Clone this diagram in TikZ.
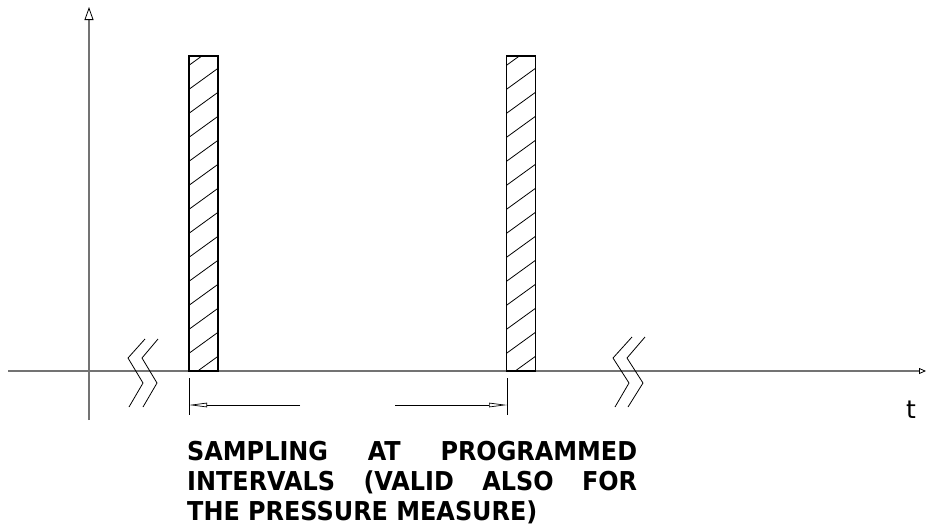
\documentclass[tikz,border=0pt]{standalone}
\usepackage{fontspec}
\setmainfont{DejaVu Sans}
\newfontfamily\capfont[FakeStretch=0.92]{DejaVu Sans}
\usetikzlibrary{arrows.meta}
\tikzset{
  axisline/.style={draw=black!55, line width=1.8pt},
  axistip/.style={-{Triangle[open, length=13pt, width=9pt, line width=0.8pt, color=black]}},
  axistipsmall/.style={-{Triangle[open, length=7pt, width=6pt, line width=0.8pt, color=black]}},
  barbox/.style={draw=black, line width=1.2pt, fill=none, minimum width=29pt, minimum height=315pt, inner sep=0pt, outer sep=0pt},
  hatch/.style={draw=black, line width=0.8pt},
  breakline/.style={draw=black, line width=0.8pt},
  dimline/.style={draw=black, line width=0.8pt},
  dimtip/.style={-{Triangle[open, length=18pt, width=4.5pt, line width=0.7pt, color=black]}},
  caption/.style={font=\capfont\bfseries\fontsize{26}{30}\selectfont, text width=450pt, align=justify, inner sep=0pt, anchor=base west},
}
\begin{document}
\begin{tikzpicture}[x=1pt,y=-1pt]
\useasboundingbox (0,0) rectangle (927,528);
% axes
\coordinate (xstart) at (8,371);
\coordinate (xend) at (926,371);
\coordinate (ystart) at (89,420);
\coordinate (yend) at (89,7);
\draw[axisline, axistipsmall] (xstart) -- (xend);
\draw[axisline, axistip] (ystart) -- (yend);
% bars
\node[barbox] (bar1) at (203.5,213.5) {};
\node[barbox] (bar2) at (521,213.5) {};
\foreach \b/\x in {bar1/189, bar2/506.5}{
  \begin{scope}
    \clip (\b.south west) rectangle (\b.north east);
    \foreach \k in {-1,...,14}{
      \pgfmathsetmacro{\yl}{353.3-24*\k}
      \draw[hatch] (\x-10,\yl+7.24) -- (\x+40,\yl-28.97);
    }
  \end{scope}
}
% breaks
\draw[breakline] (145,339) -- (128,358) -- (143,383) -- (129,407);
\draw[breakline] (158,339) -- (142,358) -- (157,383) -- (143,407);
\draw[breakline] (632,337) -- (613,358) -- (629,383) -- (615,407);
\draw[breakline] (645,337) -- (627,358) -- (643,383) -- (628,407);
% dimension
\coordinate (t1a) at (189,378);
\coordinate (t1b) at (189,415);
\coordinate (t2a) at (507,378);
\coordinate (t2b) at (507,415);
\draw[dimline] (t1a) -- (t1b);
\draw[dimline] (t2a) -- (t2b);
\coordinate (d1) at (189,405);
\coordinate (d1t) at (300,405);
\coordinate (d2) at (507,405);
\coordinate (d2t) at (395,405);
\draw[dimline, dimtip] (d1t) -- (d1);
\draw[dimline, dimtip] (d2t) -- (d2);
% labels
\node[font=\fontsize{25}{28}\selectfont, inner sep=0pt] (tlabel) at (911,410) {t};
\node[caption] (cap) at (187,460) {SAMPLING AT PROGRAMMED\linebreak INTERVALS (VALID ALSO FOR\linebreak THE PRESSURE MEASURE)};
\end{tikzpicture}
\end{document}
